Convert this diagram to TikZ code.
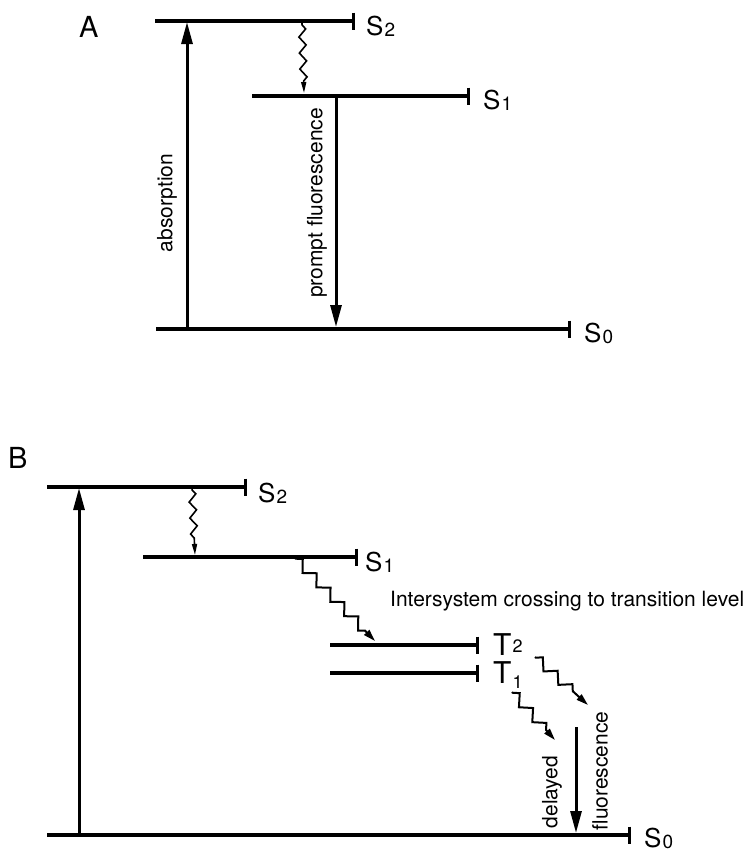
\documentclass[tikz,border=0pt]{standalone}
\usepackage{fontspec}
\setmainfont{TeX Gyre Heros}
\usetikzlibrary{arrows.meta,decorations.pathmorphing}
\newcommand\lvlab[2]{#1\kern1pt\raisebox{-0.06em}{\fontsize{19}{19}\selectfont #2}}
\begin{document}
\begin{tikzpicture}[x=1pt,y=-1pt,
  level/.style={line width=3.1pt,-{Bar[width=17pt,line width=2.6pt]}},
  bigarrow/.style={line width=3pt,-{Triangle[length=22pt,width=11pt]}},
  wavy/.style={line width=1.6pt,decorate,decoration={zigzag,segment length=16pt,amplitude=3.5pt,pre length=2pt,post length=12pt},-{Triangle[length=11pt,width=5pt]}},
  stairs/.style={line width=2pt,decorate,decoration={zigzag,segment length=20pt,amplitude=5pt,pre length=1pt,post length=12pt},-{Triangle[length=12pt,width=7pt]}},
  lvltext/.style={font=\fontsize{26}{26}\selectfont,anchor=base west,inner sep=0pt},
  ttext/.style={font=\fontsize{30}{30}\selectfont,anchor=base west,inner sep=0pt},
  smalltext/.style={font=\fontsize{21}{21}\selectfont,inner sep=0pt},
  paneltext/.style={font=\fontsize{29}{29}\selectfont,anchor=base west,inner sep=0pt}]
\useasboundingbox (0,0) rectangle (749,852);
% ---------- Panel A ----------
\node[paneltext] (labA) at (79,37) {A};
\coordinate (AS2l) at (155,21); \coordinate (AS2r) at (355,21);
\coordinate (AS1l) at (252,96); \coordinate (AS1r) at (470,96);
\coordinate (AS0l) at (156,329); \coordinate (AS0r) at (571,329);
\draw[level] (AS2l) -- (AS2r);
\draw[level] (AS1l) -- (AS1r);
\draw[level] (AS0l) -- (AS0r);
\node[lvltext] (AS2lab) at (366,35) {\lvlab{S}{2}};
\node[lvltext] (AS1lab) at (483,109) {\lvlab{S}{1}};
\node[lvltext] (AS0lab) at (584,342) {\lvlab{S}{0}};
\coordinate (Aabs0) at (187,329); \coordinate (Aabs1) at (187,22);
\draw[bigarrow] (Aabs0) -- (Aabs1);
\coordinate (Aw0) at (302,23); \coordinate (Aw1) at (304,93);
\draw[wavy] (Aw0) -- (Aw1);
\coordinate (Apf0) at (336,96); \coordinate (Apf1) at (336,327);
\draw[bigarrow] (Apf0) -- (Apf1);
\node[smalltext,rotate=90] (absA) at (167,203) {absorption};
\node[smalltext,rotate=90] (pfA) at (317,203) {prompt fluorescence};
% ---------- Panel B ----------
\node[paneltext] (labB) at (8,468) {B};
\coordinate (BS2l) at (47,487); \coordinate (BS2r) at (247,487);
\coordinate (BS1l) at (143,557); \coordinate (BS1r) at (358,557);
\coordinate (BT2l) at (330,645); \coordinate (BT2r) at (479,645);
\coordinate (BT1l) at (330,673); \coordinate (BT1r) at (479,673);
\coordinate (BS0l) at (47,835); \coordinate (BS0r) at (631,835);
\draw[level] (BS2l) -- (BS2r);
\draw[level] (BS1l) -- (BS1r);
\draw[level] (BT2l) -- (BT2r);
\draw[level] (BT1l) -- (BT1r);
\draw[level] (BS0l) -- (BS0r);
\node[lvltext] (BS2lab) at (258,502) {\lvlab{S}{2}};
\node[lvltext] (BS1lab) at (365,571) {\lvlab{S}{1}};
\node[ttext] (BT2lab) at (493,655) {T\kern1pt\raisebox{0.1em}{\fontsize{18}{18}\selectfont 2}};
\node[ttext] (BT1lab) at (493,683) {T\kern1pt\raisebox{-0.17em}{\fontsize{18}{18}\selectfont 1}};
\node[lvltext] (BS0lab) at (644,847) {\lvlab{S}{0}};
\coordinate (Babs0) at (79,835); \coordinate (Babs1) at (79,488);
\draw[bigarrow] (Babs0) -- (Babs1);
\coordinate (Bw0) at (192,488); \coordinate (Bw1) at (195,555);
\draw[wavy] (Bw0) -- (Bw1);
\coordinate (Bisc0) at (295,558); \coordinate (Bisc1) at (375,641);
\draw[stairs] (Bisc0) -- (Bisc1);
\node[smalltext,anchor=base west] (iscB) at (390,606) {Intersystem crossing to transition level};
\coordinate (Bt20) at (535,657); \coordinate (Bt21) at (588,705);
\draw[stairs] (Bt20) -- (Bt21);
\coordinate (Bt10) at (512,692); \coordinate (Bt11) at (555,740);
\draw[stairs] (Bt10) -- (Bt11);
\coordinate (Bf0) at (576,727); \coordinate (Bf1) at (576,833);
\draw[bigarrow] (Bf0) -- (Bf1);
\node[smalltext,rotate=90] (delB) at (552,792) {delayed};
\node[smalltext,rotate=90] (flB) at (600,771) {fluorescence};
\end{tikzpicture}
\end{document}
